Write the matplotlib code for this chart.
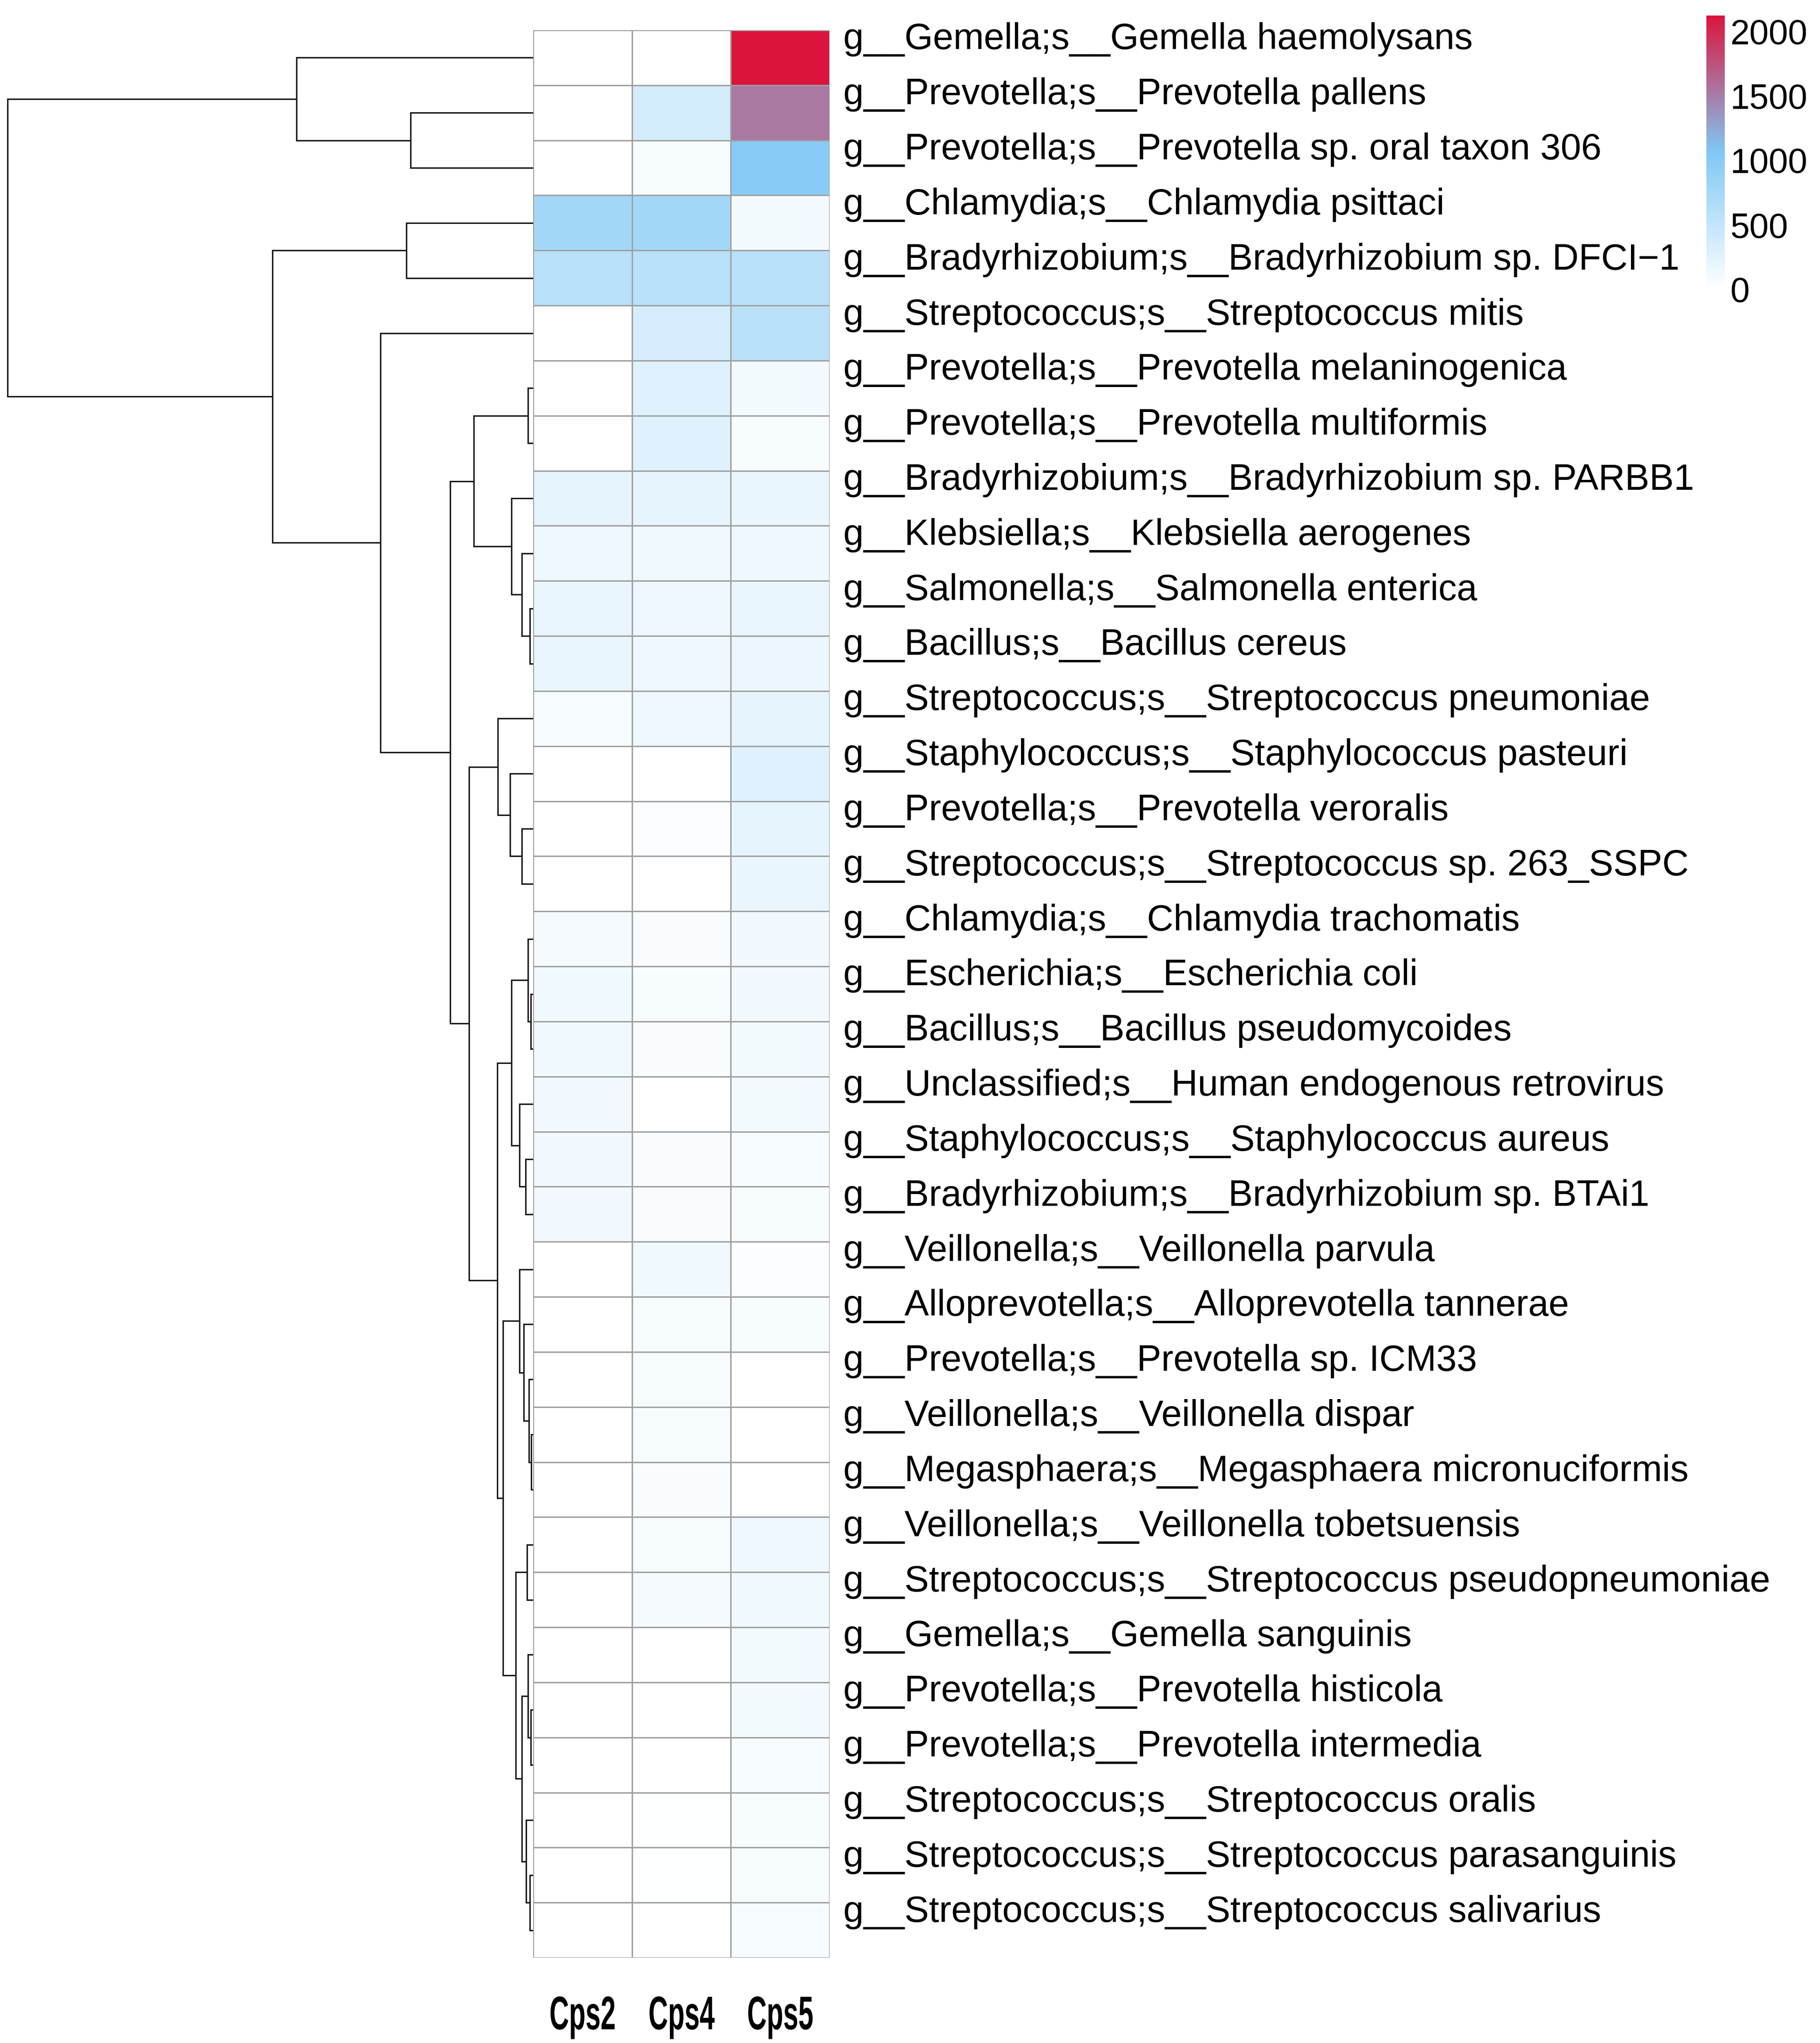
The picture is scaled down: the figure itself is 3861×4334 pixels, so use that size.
import matplotlib
matplotlib.use('Agg')
import matplotlib.pyplot as plt
import numpy as np
from matplotlib.colors import LinearSegmentedColormap, Normalize
from matplotlib.patheffects import AbstractPathEffect
from matplotlib.transforms import Affine2D

# ---- data -------------------------------------------------------------
samples = ['Cps2', 'Cps4', 'Cps5']

taxa = [
    'g__Gemella;s__Gemella haemolysans',
    'g__Prevotella;s__Prevotella pallens',
    'g__Prevotella;s__Prevotella sp. oral taxon 306',
    'g__Chlamydia;s__Chlamydia psittaci',
    'g__Bradyrhizobium;s__Bradyrhizobium sp. DFCI\u22121',
    'g__Streptococcus;s__Streptococcus mitis',
    'g__Prevotella;s__Prevotella melaninogenica',
    'g__Prevotella;s__Prevotella multiformis',
    'g__Bradyrhizobium;s__Bradyrhizobium sp. PARBB1',
    'g__Klebsiella;s__Klebsiella aerogenes',
    'g__Salmonella;s__Salmonella enterica',
    'g__Bacillus;s__Bacillus cereus',
    'g__Streptococcus;s__Streptococcus pneumoniae',
    'g__Staphylococcus;s__Staphylococcus pasteuri',
    'g__Prevotella;s__Prevotella veroralis',
    'g__Streptococcus;s__Streptococcus sp. 263_SSPC',
    'g__Chlamydia;s__Chlamydia trachomatis',
    'g__Escherichia;s__Escherichia coli',
    'g__Bacillus;s__Bacillus pseudomycoides',
    'g__Unclassified;s__Human endogenous retrovirus',
    'g__Staphylococcus;s__Staphylococcus aureus',
    'g__Bradyrhizobium;s__Bradyrhizobium sp. BTAi1',
    'g__Veillonella;s__Veillonella parvula',
    'g__Alloprevotella;s__Alloprevotella tannerae',
    'g__Prevotella;s__Prevotella sp. ICM33',
    'g__Veillonella;s__Veillonella dispar',
    'g__Megasphaera;s__Megasphaera micronuciformis',
    'g__Veillonella;s__Veillonella tobetsuensis',
    'g__Streptococcus;s__Streptococcus pseudopneumoniae',
    'g__Gemella;s__Gemella sanguinis',
    'g__Prevotella;s__Prevotella histicola',
    'g__Prevotella;s__Prevotella intermedia',
    'g__Streptococcus;s__Streptococcus oralis',
    'g__Streptococcus;s__Streptococcus parasanguinis',
    'g__Streptococcus;s__Streptococcus salivarius',
]

cps2 = [0, 0, 0, 770, 594, 0, 0, 0, 215, 150, 190, 175, 90, 0, 0, 0,
        95, 130, 125, 120, 110, 110, 0, 0, 0, 0, 0, 0, 0, 0, 0, 0, 0, 0, 0]
cps4 = [0, 368, 80, 770, 594, 351, 280, 280, 215, 130, 165, 140, 140, 0, 40, 0,
        65, 70, 65, 0, 65, 65, 130, 80, 80, 80, 65, 80, 95, 0, 5, 5, 10, 10, 5]
cps5 = [2125, 1530, 1000, 100, 594, 594, 100, 70, 190, 135, 180, 170, 210, 280, 215, 190,
        115, 110, 100, 100, 85, 80, 35, 70, 5, 5, 0, 140, 125, 100, 100, 90, 75, 80, 90]

# row dendrogram as merges (left, right, height); ids >= 35 point to earlier merges
merges = [
    (6, 7, 11), (10, 11, 7), (9, 36, 24), (8, 37, 46), (35, 38, 126),
    (14, 15, 24), (13, 40, 49), (12, 41, 75),
    (17, 18, 5), (16, 43, 11), (20, 21, 16), (19, 45, 29), (44, 46, 46),
    (25, 26, 4), (24, 48, 9), (23, 49, 20), (22, 50, 29),
    (27, 28, 13), (30, 31, 5), (29, 53, 11), (33, 34, 7), (32, 55, 15),
    (54, 56, 24), (52, 57, 37), (51, 58, 64), (47, 59, 76), (42, 60, 136),
    (39, 61, 176), (5, 62, 324), (1, 2, 260), (0, 64, 502), (3, 4, 269),
    (66, 63, 553), (65, 67, 1115),
]

cbar_ticks = [0, 500, 1000, 1500, 2000]

# ---- style ------------------------------------------------------------
plt.rcParams['font.family'] = ['Liberation Sans', 'DejaVu Sans']


class Squeeze(AbstractPathEffect):
    """Narrow (and stretch) the glyphs of a text around its centre / baseline."""

    def __init__(self, sx, sy=1.0):
        super().__init__()
        self.sx = sx
        self.sy = sy

    def draw_path(self, renderer, gc, tpath, affine, rgbFace=None):
        ext = tpath.get_extents()
        cx = (ext.x0 + ext.x1) / 2
        local = Affine2D().translate(-cx, 0).scale(self.sx, self.sy).translate(cx, 0)
        renderer.draw_path(gc, tpath, local + affine, rgbFace)


W, H = 3862, 4334
fig = plt.figure(figsize=(W / 100, H / 100), dpi=100)

def px_axes(x0, y0, x1, y1):
    return fig.add_axes([x0 / W, 1 - y1 / H, (x1 - x0) / W, (y1 - y0) / H])

values = np.array([cps2, cps4, cps5]).T
n = len(taxa)

cmap = LinearSegmentedColormap.from_list('wbc', ['#FFFFFF', '#80C8F5', '#DC143C'], N=256)
norm = Normalize(vmin=0, vmax=max(cps5))

# ---- heatmap ----------------------------------------------------------
ax = px_axes(1131, 64, 1760, 4153)
mesh = ax.pcolormesh(values, cmap=cmap, norm=norm, edgecolors='#a0a0a0', linewidth=2)
ax.set_xlim(0, len(samples))
ax.set_ylim(n, 0)
ax.axis('off')

for i, name in enumerate(taxa):
    ax.text(3.14, i + 0.17, name, va='center', ha='left', fontsize=56, color='black')

for j, s in enumerate(samples):
    ax.text(j + 0.5, 36.3, s, ha='center', va='baseline', fontsize=60,
            fontweight='bold', clip_on=False, path_effects=[Squeeze(0.69, 1.2)])

# ---- dendrogram -------------------------------------------------------
axd = px_axes(0, 64, 1131, 4153)
pos = {i: (i + 0.5, 0.0) for i in range(n)}
for k, (a, b, h) in enumerate(merges):
    ya, ha = pos[a]
    yb, hb = pos[b]
    axd.plot([ha, h, h, hb], [ya, ya, yb, yb], color='#1a1a1a', lw=2.2,
             solid_joinstyle='miter', solid_capstyle='butt')
    pos[n + k] = ((ya + yb) / 2, h)
root = merges[-1][2]
axd.set_xlim(root * 1131 / 1115, 0)
axd.set_ylim(n, 0)
axd.axis('off')

# ---- colour legend ----------------------------------------------------
cax = px_axes(3620, 33, 3659, 614)
cb = fig.colorbar(mesh, cax=cax, ticks=cbar_ticks)
cb.outline.set_visible(False)
cax.tick_params(length=0, pad=8, labelsize=53)

fig.savefig('out.png', dpi=100)
